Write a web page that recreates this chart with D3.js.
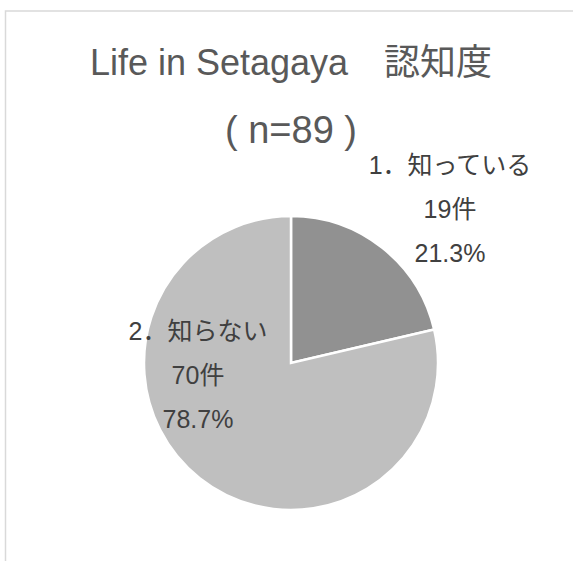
<!DOCTYPE html>
<html>
<head>
<meta charset="utf-8">
<script src="https://cdn.jsdelivr.net/npm/d3@7"></script>
<style>
    body { margin: 0; background: #fff; }
    text { font-family: "Liberation Sans", Arial, "Noto Sans CJK JP", sans-serif; }
</style>
</head>
<body>
<div id="chart"></div>
<script>
// data
const categories = ['1．知っている', '2．知らない']
const counts = [19, 70]
const percents = ['21.3%', '78.7%']
const colors = ['#919191', '#bfbfbf']
const titleLines = ['Life in Setagaya　認知度', '( n=89 )']

const width = 573, height = 561

const svg = d3.select('#chart')
    .append('svg')
    .attr('width', width)
    .attr('height', height)

// chart border (runs off the right/bottom edge)
svg.append('rect')
    .attr('x', 5.5)
    .attr('y', 11)
    .attr('width', 700)
    .attr('height', 700)
    .attr('fill', '#fff')
    .attr('stroke', '#d9d9d9')
    .attr('stroke-width', 1.5)

// title
svg.selectAll('.title')
    .data(titleLines)
    .join('text')
    .attr('class', 'title')
    .attr('x', 291)
    .attr('y', (d, i) => 75 + i * 68)
    .attr('text-anchor', 'middle')
    .attr('fill', '#595959')
    .style('font-size', (d, i) => i == 0 ? '36px' : '38px')
    .text(d => d)

const cx = 291, cy = 363, r = 147

const pie = d3.pie().sort(null)
const arc = d3.arc().innerRadius(0).outerRadius(r)

const g = svg.append('g')
    .attr('transform', `translate(${cx}, ${cy})`)

g.selectAll('path')
    .data(pie(counts))
    .join('path')
    .attr('d', arc)
    .attr('fill', (d, i) => colors[i])
    .attr('stroke', '#fff')
    .attr('stroke-width', 2.5)

// data labels: category / count / percent
const labelPos = [[450, 174], [198, 340]]
const lineGap = 44

categories.forEach(function (c, i) {
    const lines = [c, counts[i] + '件', percents[i]]
    svg.append('g')
        .selectAll('text')
        .data(lines)
        .join('text')
        .attr('x', labelPos[i][0])
        .attr('y', (d, j) => labelPos[i][1] + j * lineGap)
        .attr('text-anchor', 'middle')
        .attr('fill', '#404040')
        .style('font-size', '25px')
        .text(d => d)
})
</script>
</body>
</html>
